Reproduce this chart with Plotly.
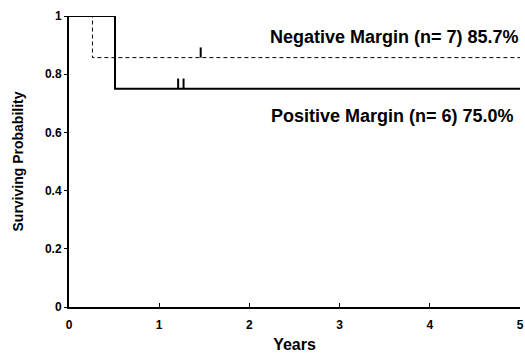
import plotly.graph_objects as go

# Kaplan-Meier step data
pos_times = [0, 0.51, 5]
pos_surv = [1.0, 0.75, 0.75]
pos_censor_t = [0.40, 1.21, 1.27]
pos_censor_s = [1.0, 0.75, 0.75]

neg_times = [0, 0.26, 5]
neg_surv = [1.0, 0.857, 0.857]
neg_censor_t = [1.46]
neg_censor_s = [0.857]

labels = ["Negative Margin (n= 7) 85.7%", "Positive Margin (n= 6) 75.0%"]
label_y = [0.928, 0.658]
label_shift = [1, -4]

x_ticks = [0, 1, 2, 3, 4, 5]
y_ticks = [0, 0.2, 0.4, 0.6, 0.8, 1]
y_tick_text = ["0", "0.2", "0.4", "0.6", "0.8", "1"]

TICK_H = 0.035


def censor_segments(ts, ss):
    xs, ys = [], []
    for t, s in zip(ts, ss):
        xs += [t, t, None]
        ys += [s, s + TICK_H, None]
    return xs, ys


fig = go.Figure()
fig.add_trace(go.Scatter(x=neg_times, y=neg_surv, mode="lines", line_shape="hv",
                         line=dict(color="black", width=1, dash="4px,3px"),
                         cliponaxis=False, showlegend=False))
fig.add_trace(go.Scatter(x=pos_times, y=pos_surv, mode="lines", line_shape="hv",
                         line=dict(color="black", width=2),
                         cliponaxis=False, showlegend=False))
cx, cy = censor_segments(pos_censor_t, pos_censor_s)
fig.add_trace(go.Scatter(x=cx, y=cy, mode="lines", line=dict(color="black", width=2),
                         cliponaxis=False, showlegend=False))
cx, cy = censor_segments(neg_censor_t, neg_censor_s)
fig.add_trace(go.Scatter(x=cx, y=cy, mode="lines", line=dict(color="black", width=2),
                         cliponaxis=False, showlegend=False))

for txt, yy, sh in zip(labels, label_y, label_shift):
    fig.add_annotation(x=5, y=yy, xref="x", yref="y", text=txt, showarrow=False,
                       xanchor="right", yanchor="middle", xshift=sh,
                       font=dict(family="Liberation Sans", size=18, color="black", weight="bold"))

font_b = dict(family="Liberation Sans", size=12, color="black", weight="bold")
fig.update_layout(
    width=525, height=353,
    margin=dict(l=69, r=5, t=16, b=46),
    paper_bgcolor="white", plot_bgcolor="white",
    xaxis=dict(range=[0, 5], tickvals=x_ticks, ticks="inside", ticklen=4, tickcolor="black",
               showline=True, linecolor="black", linewidth=2, showgrid=False, zeroline=False,
               tickfont=font_b, automargin=False, ticklabelstandoff=6,
               title=dict(text="Years", font=dict(family="Liberation Sans", size=16, color="black", weight="bold"), standoff=8)),
    yaxis=dict(range=[0, 1], tickvals=y_ticks, ticktext=y_tick_text, ticks="outside", ticklen=3,
               tickcolor="black", showline=True, linecolor="black", linewidth=2, showgrid=False,
               zeroline=False, tickfont=font_b, automargin=False,
               title=dict(text="Surviving Probability", font=dict(family="Liberation Sans", size=14, color="black", weight="bold"), standoff=18)),
)

fig.write_html("out.html", config={"displayModeBar": False},
               post_script="document.body.style.margin='0';")
